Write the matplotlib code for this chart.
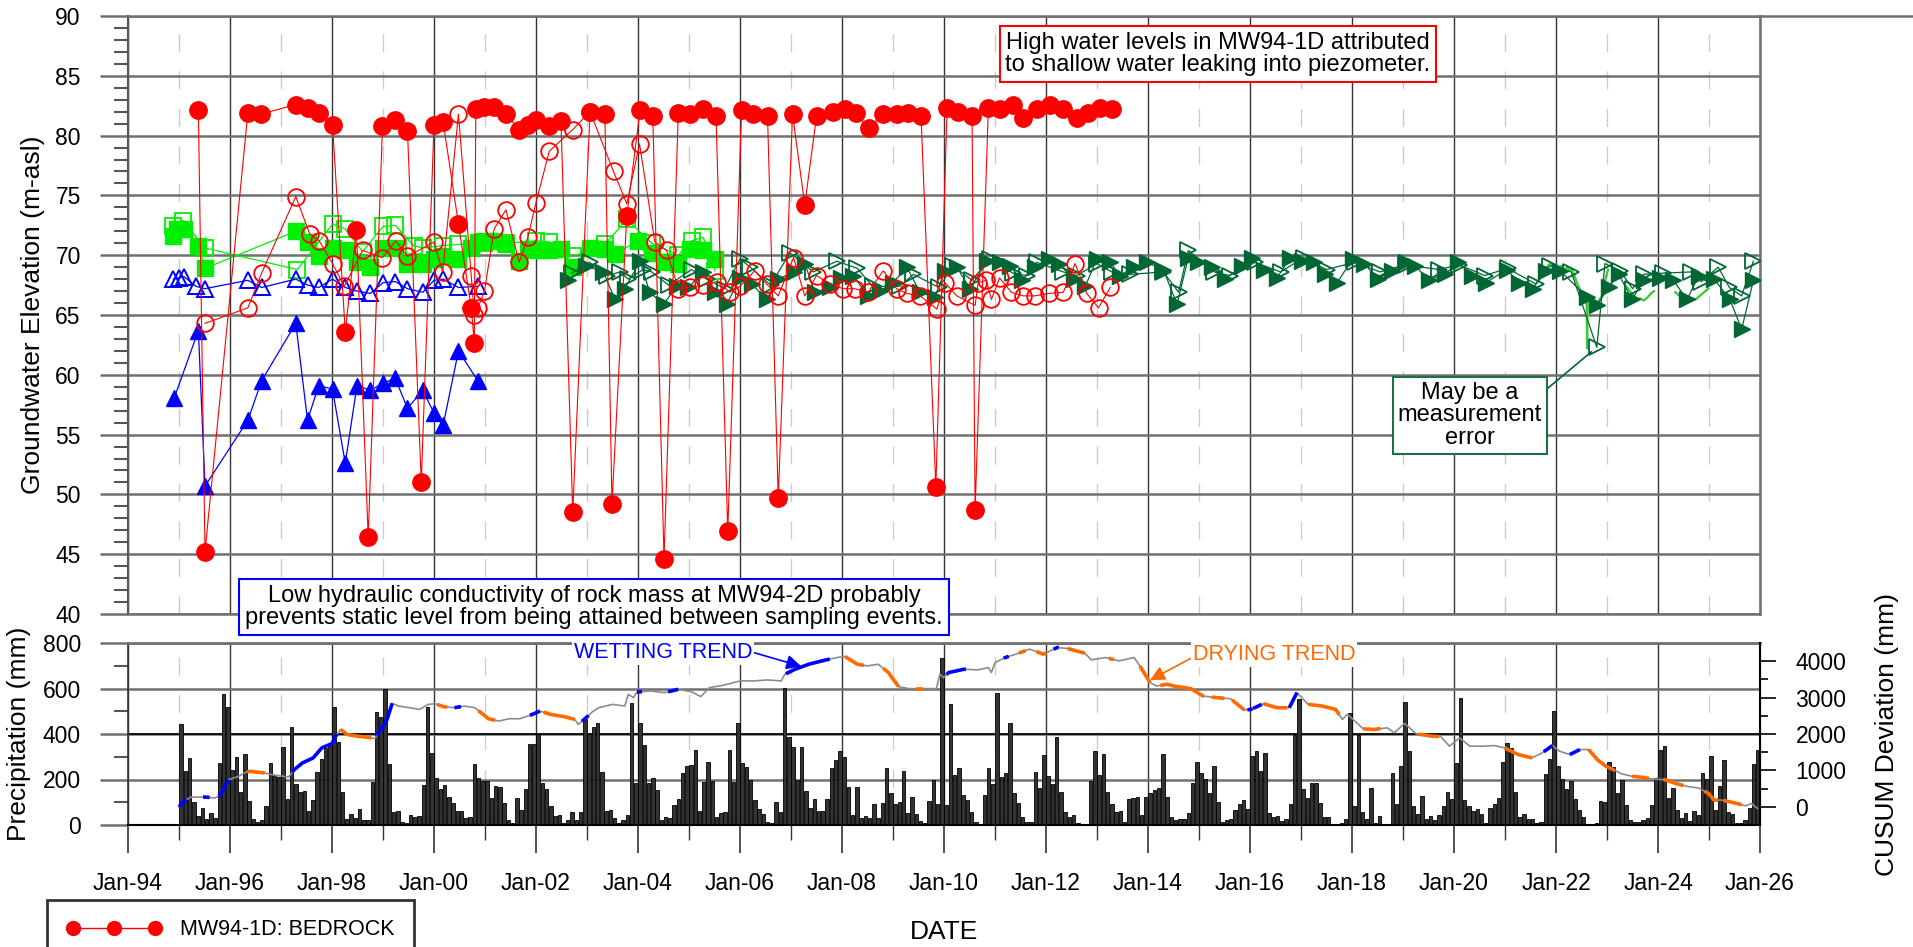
import numpy as np
import matplotlib
matplotlib.use("Agg")
import matplotlib.pyplot as plt
from matplotlib.lines import Line2D
from matplotlib.ticker import MultipleLocator, FixedLocator, FuncFormatter

plt.rcParams['font.family'] = ['Liberation Sans', 'DejaVu Sans']

# water levels, x in decimal years
# MW94-1D bedrock (red, filled circles)
red_filled_year = [1995.38, 1995.51, 1996.35, 1996.61, 1997.29, 1997.52, 1997.74, 1998.01, 1998.26, 1998.48,
                   1998.71, 1998.99, 1999.24, 1999.48, 1999.75, 2000.00, 2000.18, 2000.48, 2000.73, 2000.79,
                   2000.82, 2000.99, 2001.18, 2001.41, 2001.67, 2001.84, 2002.00, 2002.26, 2002.49, 2002.72,
                   2003.06, 2003.35, 2003.49, 2003.78, 2004.04, 2004.29, 2004.51, 2004.79, 2005.02, 2005.28,
                   2005.53, 2005.76, 2006.03, 2006.26, 2006.54, 2006.75, 2007.03, 2007.27, 2007.50, 2007.82,
                   2008.06, 2008.27, 2008.52, 2008.81, 2009.07, 2009.30, 2009.55, 2009.84, 2010.06, 2010.28,
                   2010.55, 2010.61, 2010.87, 2011.10, 2011.36, 2011.55, 2011.82, 2012.08, 2012.34, 2012.60,
                   2012.83, 2013.06, 2013.29]
red_filled_m = [82.1, 45.2, 81.9, 81.8, 82.6, 82.3, 81.9, 80.9, 63.6, 72.1,
                46.4, 80.8, 81.3, 80.4, 51.0, 80.9, 81.1, 72.6, 65.6, 62.7,
                82.2, 82.4, 82.4, 81.8, 80.5, 80.9, 81.3, 80.8, 81.2, 48.5,
                82.0, 81.8, 49.2, 73.3, 82.1, 81.6, 44.6, 81.9, 81.8, 82.2,
                81.6, 46.9, 82.1, 81.8, 81.6, 49.7, 81.8, 74.2, 81.6, 82.0,
                82.2, 81.9, 80.6, 81.8, 81.8, 81.9, 81.6, 50.6, 82.3, 82.0,
                81.6, 48.7, 82.3, 82.2, 82.6, 81.5, 82.2, 82.6, 82.2, 81.5,
                81.9, 82.3, 82.2]

red_open_year = [1995.51, 1996.35, 1996.62, 1997.29, 1997.56, 1997.75, 1998.01, 1998.24, 1998.60, 1998.99,
                 1999.25, 1999.48, 2000.00, 2000.17, 2000.48, 2000.73, 2000.79, 2000.86, 2000.99, 2001.18,
                 2001.41, 2001.67, 2001.84, 2002.00, 2002.26, 2002.72, 2003.06, 2003.52, 2003.78, 2004.03,
                 2004.33, 2004.56, 2004.79, 2005.02, 2005.28, 2005.55, 2005.80, 2006.00, 2006.29, 2006.52,
                 2006.75, 2007.05, 2007.27, 2007.50, 2007.76, 2008.02, 2008.25, 2008.51, 2008.81, 2009.07,
                 2009.27, 2009.53, 2009.86, 2010.02, 2010.25, 2010.61, 2010.67, 2010.83, 2010.93, 2011.09,
                 2011.32, 2011.55, 2011.78, 2012.05, 2012.34, 2012.57, 2012.80, 2013.03, 2013.26]
red_open_m = [64.3, 65.6, 68.5, 74.9, 71.8, 71.2, 69.3, 67.4, 70.4, 69.8,
              71.2, 69.9, 71.1, 68.6, 81.8, 68.3, 65.0, 65.6, 67.0, 72.2,
              73.8, 69.4, 71.5, 74.4, 78.7, 80.5, 82.0, 77.0, 74.3, 79.3,
              71.1, 70.4, 67.2, 67.3, 67.5, 67.8, 66.9, 67.4, 68.7, 67.6,
              66.6, 69.8, 66.6, 68.3, 67.6, 67.2, 67.2, 66.9, 68.7, 67.2,
              66.8, 66.6, 65.5, 67.7, 66.6, 65.8, 67.7, 67.9, 66.3, 68.1,
              66.9, 66.6, 66.6, 66.8, 66.9, 69.3, 66.8, 65.6, 67.3]

blue_filled_year = [1994.91, 1995.38, 1995.51, 1996.35, 1996.62, 1997.29, 1997.52, 1997.74, 1998.01, 1998.26,
                    1998.49, 1998.75, 1999.00, 1999.24, 1999.48, 1999.78, 2000.00, 2000.18, 2000.48, 2000.86]
blue_filled_m = [58.1, 63.7, 50.7, 56.2, 59.5, 64.3, 56.2, 59.1, 58.8, 52.6,
                 59.1, 58.7, 59.3, 59.7, 57.2, 58.7, 56.8, 55.8, 62.0, 59.5]

blue_open_year = [1994.89, 1995.00, 1995.10, 1995.33, 1995.51, 1996.35, 1996.62, 1997.29, 1997.52, 1997.74,
                  1998.01, 1998.26, 1998.49, 1998.75, 1999.00, 1999.24, 1999.48, 1999.78, 2000.00, 2000.18,
                  2000.48, 2000.86]
blue_open_m = [68.0, 68.1, 68.2, 67.4, 67.2, 67.9, 67.3, 68.0, 67.5, 67.3,
               68.0, 67.3, 67.0, 66.8, 67.7, 67.8, 67.2, 66.9, 67.9, 68.0,
               67.3, 67.4]

green_filled_year = [1994.88, 1994.97, 1995.10, 1995.38, 1995.51, 1997.29, 1997.52, 1997.74, 1998.01, 1998.26,
                     1998.49, 1998.75, 1999.00, 1999.24, 1999.48, 1999.78, 2000.00, 2000.18, 2000.48, 2000.73,
                     2000.86, 2000.99, 2001.18, 2001.41, 2001.67, 2001.84, 2002.00, 2002.26, 2002.49, 2002.72,
                     2003.06, 2003.35, 2003.55, 2004.00, 2004.27, 2004.50, 2004.79, 2005.02, 2005.28, 2005.51]
green_filled_m = [71.6, 72.2, 72.2, 70.8, 68.9, 72.0, 71.1, 69.9, 70.6, 70.4,
                  69.4, 69.0, 70.6, 70.6, 69.3, 69.3, 69.7, 69.9, 69.7, 70.6,
                  71.1, 71.2, 71.2, 70.9, 69.5, 70.5, 70.4, 70.4, 70.5, 69.0,
                  70.6, 70.5, 70.1, 71.2, 70.2, 69.4, 69.3, 70.5, 70.4, 69.7]

green_open_year = [1994.88, 1995.08, 1995.51, 1997.32, 1998.01, 1998.26, 1998.60, 1999.00, 1999.24, 1999.60,
                   1999.78, 2000.18, 2000.48, 2000.99, 2001.41, 2002.00, 2002.26, 2002.72, 2003.35, 2003.78,
                   2004.27, 2004.79, 2005.05, 2005.28, 2005.51]
green_open_m = [72.4, 72.9, 70.6, 68.8, 72.6, 72.2, 70.3, 72.4, 72.5, 70.8,
                70.6, 70.8, 70.9, 71.0, 71.0, 71.2, 71.1, 69.9, 70.9, 73.0,
                71.0, 70.0, 71.2, 71.5, 68.7]

dkgreen_filled_year = [2002.63, 2002.99, 2003.32, 2003.55, 2003.74, 2004.04, 2004.23, 2004.50, 2004.76, 2004.99,
                       2005.28, 2005.51, 2005.74, 2006.00, 2006.23, 2006.52, 2006.75, 2007.05, 2007.27, 2007.47,
                       2007.76, 2007.99, 2008.22, 2008.51, 2008.74, 2009.00, 2009.27, 2009.53, 2009.82, 2010.02,
                       2010.25, 2010.51, 2010.84, 2011.10, 2011.30, 2011.52, 2011.78, 2012.05, 2012.25, 2012.54,
                       2012.77, 2013.00, 2013.26, 2013.45, 2013.72, 2013.98, 2014.30, 2014.57, 2014.79, 2014.99,
                       2015.25, 2015.51, 2015.84, 2016.04, 2016.27, 2016.53, 2016.79, 2017.02, 2017.25, 2017.47,
                       2017.71, 2018.01, 2018.24, 2018.51, 2018.78, 2019.05, 2019.24, 2019.51, 2019.82, 2020.08,
                       2020.35, 2020.62, 2021.04, 2021.27, 2021.54, 2021.81, 2022.08, 2022.61, 2022.80, 2023.03,
                       2023.23, 2023.49, 2023.72, 2024.03, 2024.30, 2024.57, 2024.80, 2025.10, 2025.41, 2025.64,
                       2025.87]
dkgreen_filled_m = [67.9, 69.1, 68.6, 66.3, 67.2, 69.5, 66.9, 65.9, 67.4, 67.3,
                    68.6, 66.9, 65.9, 68.1, 67.6, 66.3, 68.0, 68.6, 69.3, 66.9,
                    67.3, 68.1, 68.3, 66.6, 67.0, 67.7, 69.0, 66.9, 66.5, 68.7,
                    69.0, 67.2, 69.5, 69.4, 69.1, 67.9, 69.0, 69.7, 69.3, 68.0,
                    67.4, 69.7, 69.4, 68.3, 69.0, 69.4, 68.8, 65.9, 69.8, 69.4,
                    69.0, 68.0, 69.1, 69.8, 68.8, 68.1, 69.8, 69.5, 69.4, 68.4,
                    67.7, 69.7, 69.3, 68.0, 68.7, 69.4, 69.1, 67.9, 68.4, 69.4,
                    68.3, 67.7, 68.8, 67.7, 67.2, 68.7, 68.7, 66.5, 65.8, 67.3,
                    68.4, 66.3, 67.9, 68.1, 67.9, 66.3, 68.3, 68.0, 66.3, 63.8,
                    67.9]

dkgreen_open_year = [2002.70, 2003.05, 2003.40, 2003.65, 2003.81, 2004.10, 2004.27, 2004.60, 2005.05, 2005.35,
                     2005.70, 2006.00, 2006.20, 2006.60, 2006.98, 2007.44, 2007.90, 2008.30, 2008.60, 2009.13,
                     2009.40, 2009.90, 2010.18, 2010.55, 2010.90, 2011.35, 2011.62, 2011.82, 2012.34, 2012.60,
                     2013.00, 2013.29, 2013.65, 2014.30, 2014.60, 2014.79, 2015.30, 2015.60, 2016.10, 2016.60,
                     2017.05, 2017.50, 2018.05, 2018.55, 2019.05, 2019.70, 2020.10, 2020.60, 2021.05, 2021.60,
                     2021.88, 2022.30, 2022.80, 2022.96, 2023.26, 2023.50, 2023.72, 2024.10, 2024.64, 2024.85,
                     2025.18, 2025.40, 2025.64, 2025.87]
dkgreen_open_m = [68.5, 69.4, 68.3, 68.6, 68.0, 68.8, 68.6, 67.5, 68.8, 68.0,
                  67.2, 69.7, 69.0, 67.5, 70.2, 68.6, 69.5, 68.9, 67.4, 67.4,
                  68.4, 67.3, 69.1, 67.9, 69.7, 68.5, 68.3, 69.4, 68.6, 68.3,
                  69.3, 68.6, 68.4, 68.6, 66.9, 70.4, 68.6, 68.3, 69.4, 68.6,
                  69.8, 68.8, 69.4, 68.6, 69.2, 68.8, 69.2, 68.3, 68.9, 67.6,
                  69.1, 68.6, 62.3, 69.3, 68.7, 67.2, 68.4, 68.5, 68.6, 67.8,
                  69.0, 67.3, 66.6, 69.5]

# datalogger record (light green), gaps as nan
logger_year = [2021.80, 2021.88, 2021.95, 2022.02, 2022.10, 2022.18, 2022.22, 2022.26, 2022.30, 2022.36,
               2022.42, 2022.48, 2022.55, 2022.60, 2022.61, 2022.62, 2022.66, 2022.72, 2022.80, 2022.86,
               2022.92, 2022.97, 2023.02, 2023.10,
               2023.38, 2023.45, 2023.52, 2023.58, 2023.65, 2023.72, 2023.80, 2023.86, 2023.92, 2024.00,
               2024.34, 2024.42, 2024.50, 2024.58, 2024.66, 2024.74, 2024.82, 2024.90, 2024.99]
logger_m = [68.9, 69.3, 69.0, 68.9, 69.1, 68.8, 69.0, 68.7, 68.9, 68.3,
            67.6, 67.0, 66.6, 66.4, 62.2, 66.4, 66.2, 66.0, 65.9, 66.3,
            66.8, 68.0, 68.8, np.nan,
            67.4, 67.0, 66.6, 66.3, 66.4, 66.2, 66.5, 66.8, 67.0, np.nan,
            66.9, 66.6, 66.3, 66.2, 66.4, 66.3, 66.6, 66.9, 67.2]

# monthly precipitation (mm), Jan 1995 to Dec 2025
precip_start = 1995
precip_mm = [
    442, 237, 293, 100, 40, 76, 28, 54, 29, 274, 574, 519,     # 1995
    242, 297, 146, 312, 107, 26, 12, 22, 85, 271, 220, 213,    # 1996
    341, 113, 429, 180, 146, 149, 63, 110, 234, 290, 337, 355,  # 1997
    520, 366, 146, 26, 47, 31, 69, 22, 22, 188, 498, 476,      # 1998
    600, 267, 55, 60, 15, 10, 44, 37, 40, 176, 520, 318,       # 1999
    205, 160, 178, 125, 95, 60, 62, 30, 35, 270, 205, 195,     # 2000
    195, 120, 170, 165, 95, 20, 10, 120, 65, 160, 355, 355,    # 2001
    400, 185, 160, 85, 40, 45, 10, 20, 55, 20, 55, 465,        # 2002
    400, 430, 450, 235, 60, 65, 30, 10, 20, 45, 535, 183,      # 2003
    447, 352, 183, 208, 154, 22, 37, 29, 88, 113, 227, 259,    # 2004
    264, 330, 63, 188, 275, 195, 37, 54, 59, 330, 190, 447,    # 2005
    271, 256, 198, 110, 70, 48, 15, 10, 102, 59, 604, 388,     # 2006
    344, 198, 341, 149, 73, 113, 63, 63, 113, 249, 286, 325,   # 2007
    300, 169, 44, 166, 29, 40, 29, 92, 31, 95, 252, 139,       # 2008
    92, 102, 239, 54, 125, 47, 17, 10, 105, 198, 91, 733,      # 2009
    90, 532, 220, 249, 132, 110, 59, 15, 3, 132, 252, 180,     # 2010
    582, 212, 227, 447, 142, 98, 37, 15, 15, 231, 161, 308,    # 2011
    215, 180, 385, 146, 59, 37, 44, 10, 3, 5, 193, 325,        # 2012
    220, 311, 146, 92, 59, 62, 15, 113, 117, 124, 44, 124,     # 2013
    139, 154, 164, 311, 122, 37, 22, 27, 27, 51, 186, 275,     # 2014
    230, 201, 139, 259, 100, 15, 22, 27, 66, 91, 110, 69,      # 2015
    303, 325, 237, 315, 51, 37, 40, 17, 25, 92, 396, 552,      # 2016
    157, 117, 183, 183, 95, 37, 37, 3, 3, 7, 25, 491,          # 2017
    85, 396, 59, 27, 161, 10, 40, 3, 3, 230, 92, 259,          # 2018
    542, 325, 85, 48, 129, 25, 40, 22, 44, 85, 146, 113,       # 2019
    274, 557, 110, 85, 63, 70, 48, 7, 73, 91, 117, 278,        # 2020
    359, 340, 146, 37, 48, 27, 27, 10, 15, 223, 289, 503,      # 2021
    259, 201, 157, 195, 114, 66, 34, 3, 3, 7, 105, 102,        # 2022
    278, 256, 139, 198, 88, 22, 15, 15, 22, 29, 88, 208,       # 2023
    331, 346, 119, 163, 67, 31, 53, 16, 60, 45, 229, 202,      # 2024
    302, 67, 170, 287, 56, 48, 9, 9, 23, 75, 268, 331,         # 2025
]

# CUSUM deviation of precipitation (mm)
cusum_year = [1995.00, 1995.09, 1995.23, 1995.53, 1995.70, 1995.80, 1995.97, 1996.17, 1996.28, 1996.38,
              1996.55, 1996.68, 1996.82, 1996.95, 1997.15, 1997.26, 1997.42, 1997.63, 1997.80, 1998.00,
              1998.07, 1998.17, 1998.30, 1998.50, 1998.67, 1998.84, 1998.98, 1999.08, 1999.18, 1999.31,
              1999.52, 1999.72, 1999.89, 2000.02, 2000.19, 2000.40, 2000.60, 2000.80, 2001.07, 2001.27,
              2001.47, 2001.68, 2001.88, 2002.08, 2002.29, 2002.56, 2002.76, 2002.83, 2002.96, 2003.10,
              2003.23, 2003.50, 2003.74, 2003.81, 2003.91, 2003.98, 2004.25, 2004.52, 2004.79, 2005.06,
              2005.23, 2005.40, 2005.67, 2005.87, 2006.00, 2006.27, 2006.54, 2006.81, 2006.88, 2007.08,
              2007.35, 2007.69, 2007.90, 2008.06, 2008.30, 2008.50, 2008.71, 2008.91, 2009.11, 2009.31,
              2009.58, 2009.85, 2009.92, 2009.99, 2010.09, 2010.39, 2010.66, 2010.87, 2010.93, 2011.00,
              2011.20, 2011.41, 2011.68, 2011.95, 2012.22, 2012.42, 2012.76, 2012.89, 2013.16, 2013.43,
              2013.73, 2013.84, 2014.04, 2014.17, 2014.38, 2014.50, 2014.84, 2015.08, 2015.35, 2015.62,
              2015.89, 2016.02, 2016.26, 2016.53, 2016.77, 2016.92, 2017.14, 2017.41, 2017.68, 2017.81,
              2017.91, 2018.02, 2018.22, 2018.42, 2018.69, 2018.83, 2019.03, 2019.26, 2019.57, 2019.74,
              2019.91, 2020.11, 2020.31, 2020.58, 2020.79, 2020.99, 2021.26, 2021.53, 2021.73, 2021.93,
              2022.07, 2022.27, 2022.47, 2022.64, 2022.81, 2022.98, 2023.15, 2023.28, 2023.49, 2023.69,
              2023.89, 2024.13, 2024.36, 2024.57, 2024.80, 2024.99, 2025.10, 2025.26, 2025.49, 2025.72,
              2025.83, 2025.95]
cusum_mm = [0, 148, 267, 267, 240, 304, 745, 837, 929, 975,
            950, 930, 883, 855, 819, 1021, 1205, 1343, 1619, 1738,
            1940, 2124, 1986, 1940, 1913, 1876, 2170, 2400, 2842, 2768,
            2722, 2676, 2814, 2832, 2750, 2722, 2768, 2722, 2419, 2354,
            2419, 2419, 2511, 2630, 2538, 2474, 2400, 2262, 2419, 2603,
            2722, 2814, 2768, 3090, 2998, 3154, 3182, 3136, 3228, 3154,
            3026, 3274, 3338, 3412, 3458, 3458, 3485, 3458, 3642, 3779,
            3917, 4037, 4101, 4129, 3917, 3871, 3917, 3688, 3301, 3246,
            3246, 3246, 3642, 3550, 3688, 3779, 3761, 3825, 3688, 3963,
            4101, 4193, 4331, 4193, 4377, 4349, 4221, 4037, 4101, 4009,
            4101, 3871, 3412, 3320, 3366, 3320, 3246, 3044, 2998, 2970,
            2658, 2676, 2832, 2722, 2722, 3136, 2814, 2768, 2676, 2400,
            2538, 2400, 2143, 2124, 2170, 2033, 2290, 2005, 1940, 1930,
            1665, 1894, 1665, 1665, 1683, 1619, 1435, 1343, 1481, 1683,
            1527, 1435, 1573, 1573, 1297, 1113, 1003, 911, 837, 810,
            764, 745, 635, 561, 515, 368, 184, 184, 110, 28,
            92, -46]

wet_periods = [(1995.0, 1995.15), (1995.47, 1995.6), (1995.77, 1995.97), (1997.22, 1998.1), (1998.88, 1999.18),
               (2000.4, 2000.53), (2001.88, 2002.08), (2002.9, 2003.03), (2003.98, 2004.08), (2004.59, 2004.79),
               (2006.9, 2007.76), (2010.05, 2010.43), (2011.17, 2011.27), (2012.15, 2012.25), (2015.95, 2016.05),
               (2016.06, 2016.23), (2016.77, 2016.92), (2021.76, 2021.93), (2022.27, 2022.47)]
dry_periods = [(1996.34, 1996.68), (1998.17, 1998.77), (2000.06, 2000.26), (2000.87, 2001.2), (2002.15, 2002.76),
               (2008.06, 2008.43), (2008.81, 2009.11), (2009.45, 2009.58), (2011.47, 2011.6), (2011.81, 2012.0),
               (2012.42, 2012.76), (2013.23, 2013.33), (2013.84, 2014.04), (2014.24, 2015.1), (2015.25, 2015.5),
               (2015.65, 2015.89), (2016.26, 2016.73), (2017.14, 2017.75), (2018.22, 2018.56), (2019.3, 2019.7),
               (2020.99, 2021.53), (2022.64, 2023.15), (2023.49, 2023.82), (2024.1, 2024.5), (2024.91, 2025.18),
               (2025.29, 2025.64)]

RED = '#ff0000'
BLUE = '#0000ff'
LIME = '#00ee00'
DKGREEN = '#006633'
ORANGE = '#ff6a00'
GRID = '#707070'

W, H = 1913, 947
fig = plt.figure(figsize=(W / 100, H / 100), dpi=100)


def fx(px):
    return px / W


def fy(py):
    return 1 - py / H


ax1 = fig.add_axes([fx(128), fy(614), fx(1760) - fx(128), fy(16) - fy(614)])
ax2 = fig.add_axes([fx(128), fy(825), fx(1760) - fx(128), fy(643) - fy(825)])
ax3 = ax2.twinx()


def year_grid(ax):
    ax.set_xlim(1994, 2026)
    ax.xaxis.set_major_locator(MultipleLocator(2))
    ax.xaxis.set_minor_locator(MultipleLocator(1))
    ax.grid(True, axis='x', which='major', color='#333333', lw=1.0)
    ax.grid(True, axis='x', which='minor', color='#cccccc', lw=1.0, dashes=(13, 14))
    ax.set_axisbelow(True)


# ---- top panel: groundwater elevations
year_grid(ax1)
ax1.set_ylim(40, 90)
ax1.yaxis.set_major_locator(MultipleLocator(5))
ax1.yaxis.set_minor_locator(MultipleLocator(1))
ax1.grid(True, axis='y', which='major', color=GRID, lw=1.8)
ax1.tick_params(axis='y', which='major', direction='out', length=20, width=1.8, color=GRID,
                labelsize=16.5, pad=14)
ax1.tick_params(axis='y', which='minor', direction='out', length=10, width=1.5, color='#555555')
ax1.tick_params(axis='x', which='both', length=0, labelbottom=False)
for s in ['top', 'right', 'bottom']:
    ax1.spines[s].set_color(GRID)
    ax1.spines[s].set_linewidth(1.8)
ax1.spines['left'].set_color('#555555')
ax1.spines['left'].set_linewidth(1.5)

# the 90 m line runs on to the page edge in the source
fig.add_artist(Line2D([fx(1760), 1.0], [fy(16), fy(16)], color=GRID, lw=1.8))

ax1.plot(green_open_year, green_open_m, color=LIME, lw=0.9, marker='s', ms=11, mfc='none', mec=LIME,
         mew=1.3, zorder=3)
ax1.plot(green_filled_year, green_filled_m, color=LIME, lw=0.9, marker='s', ms=11, mfc=LIME, mec=LIME,
         zorder=3)
ax1.plot(logger_year, logger_m, color='#33cc33', lw=1.6, zorder=3)
ax1.plot(dkgreen_open_year, dkgreen_open_m, color=DKGREEN, lw=0.9, marker='>', ms=12, mfc='none',
         mec=DKGREEN, mew=1.3, zorder=4)
ax1.plot(dkgreen_filled_year, dkgreen_filled_m, color=DKGREEN, lw=0.9, marker='>', ms=12, mfc=DKGREEN,
         mec=DKGREEN, zorder=4)
ax1.plot(blue_open_year, blue_open_m, color=BLUE, lw=0.9, marker='^', ms=12, mfc='none', mec=BLUE,
         mew=1.4, zorder=5)
ax1.plot(blue_filled_year, blue_filled_m, color=BLUE, lw=0.9, marker='^', ms=12, mfc=BLUE, mec=BLUE,
         zorder=5)
ax1.plot(red_open_year, red_open_m, color=RED, lw=0.8, marker='o', ms=12, mfc='none', mec=RED,
         mew=1.3, zorder=6)
ax1.plot(red_filled_year, red_filled_m, color=RED, lw=0.8, marker='o', ms=12.5, mfc=RED, mec=RED,
         zorder=7)

ax1.set_ylabel('Groundwater Elevation (m-asl)', fontsize=19)
ax1.yaxis.set_label_coords(-0.051, 0.5)

ax1.annotate('May be a\nmeasurement\nerror', xy=(2022.8, 62.3), xytext=(2020.31, 56.6),
             ha='center', va='center', fontsize=17, linespacing=1.05, zorder=10,
             bbox=dict(boxstyle='square,pad=0.2', fc='white', ec='#1d7040', lw=1.5),
             arrowprops=dict(arrowstyle='-', color=DKGREEN, lw=1.2, relpos=(1.0, 0.83),
                             shrinkA=0, shrinkB=5))

fig.text(fx(1218), fy(54), 'High water levels in MW94-1D attributed\nto shallow water leaking into piezometer.',
         ha='center', va='center', fontsize=17, linespacing=1.0, multialignment='center', zorder=10,
         bbox=dict(boxstyle='square,pad=0.25', fc='white', ec=RED, lw=1.5))

fig.text(fx(594), fy(607),
         'Low hydraulic conductivity of rock mass at MW94-2D probably\n'
         'prevents static level from being attained between sampling events.',
         ha='center', va='center', fontsize=17, linespacing=1.05, multialignment='center', zorder=10,
         bbox=dict(boxstyle='square,pad=0.25', fc='white', ec=BLUE, lw=1.5))

# ---- bottom panel: precipitation and CUSUM
year_grid(ax2)
n = len(precip_mm)
bar_x = precip_start + (np.arange(n) + 0.5) / 12.0
ax2.bar(bar_x, precip_mm, width=0.85 / 12, color='#333333', edgecolor='black', lw=0.6, zorder=2)
ax2.set_ylim(0, 800)
ax2.yaxis.set_major_locator(MultipleLocator(200))
ax2.yaxis.set_minor_locator(MultipleLocator(100))
ax2.grid(True, axis='y', which='major', color=GRID, lw=1.8)
ax2.axhline(400, color='black', lw=1.2, zorder=1)
ax2.tick_params(axis='y', which='major', direction='out', length=20, width=1.8, color=GRID,
                labelsize=16.5, pad=14)
ax2.tick_params(axis='y', which='minor', direction='out', length=10, width=1.5, color='#555555')
ax2.tick_params(axis='x', which='major', direction='out', length=20, width=1.2, color='#333333',
                labelsize=16.5, pad=14)
ax2.tick_params(axis='x', which='minor', direction='out', length=11, width=1.0, color='#333333')
ax2.xaxis.set_major_formatter(FuncFormatter(lambda v, p: 'Jan-%02d' % (int(round(v)) % 100)))
ax2.spines['bottom'].set_color('black')
ax2.spines['bottom'].set_linewidth(1.5)
ax2.spines['top'].set_color(GRID)
ax2.spines['top'].set_linewidth(2.0)
ax2.spines['left'].set_color('#333333')
ax2.spines['left'].set_linewidth(1.2)
ax2.set_ylabel('Precipitation (mm)', fontsize=19)
ax2.yaxis.set_label_coords(-0.0594, 0.5)
ax2.set_xlabel('DATE', fontsize=19)
ax2.xaxis.set_label_coords(0.5, -0.52)

ax3.set_ylim(-500, 4500)
ax3.yaxis.set_major_locator(FixedLocator([0, 1000, 2000, 3000, 4000]))
ax3.yaxis.set_minor_locator(FixedLocator([500, 1500, 2500, 3500]))
ax3.tick_params(axis='y', which='major', direction='out', length=11.5, width=1.2, color='black',
                labelsize=16.5, pad=14)
ax3.tick_params(axis='y', which='minor', direction='out', length=6, width=1.2, color='black')
for s in ['top', 'bottom', 'left']:
    ax3.spines[s].set_visible(False)
ax3.spines['right'].set_color('black')
ax3.spines['right'].set_linewidth(1.5)
ax3.set_ylabel('CUSUM Deviation (mm)', fontsize=19)
ax3.yaxis.set_label_coords(1.0705, 0.5)

cx = np.array(cusum_year)
cy = np.array(cusum_mm, dtype=float)
ax3.plot(cx, cy, color='#8c8c8c', lw=1.2, zorder=3)


def trend_piece(t0, t1):
    inside = (cx > t0) & (cx < t1)
    xs = np.concatenate([[t0], cx[inside], [t1]])
    return xs, np.interp(xs, cx, cy)


for t0, t1 in wet_periods:
    xs, ys = trend_piece(t0, t1)
    ax3.plot(xs, ys, color=BLUE, lw=2.6, solid_capstyle='butt', zorder=4)
for t0, t1 in dry_periods:
    xs, ys = trend_piece(t0, t1)
    ax3.plot(xs, ys, color=ORANGE, lw=2.6, solid_capstyle='butt', zorder=4)

ax3.annotate('WETTING TREND', xy=(2007.2, 3860), xytext=(2004.49, 4248), color=BLUE, fontsize=15.5,
             ha='center', va='center', annotation_clip=False, zorder=10,
             bbox=dict(boxstyle='square,pad=0.1', fc='white', ec='none'),
             arrowprops=dict(arrowstyle='-|>', color=BLUE, lw=1.2, mutation_scale=22,
                             relpos=(1.0, 0.5), shrinkA=0, shrinkB=0))
ax3.annotate('DRYING TREND', xy=(2014.04, 3480), xytext=(2016.47, 4193), color=ORANGE, fontsize=15.5,
             ha='center', va='center', annotation_clip=False, zorder=10,
             bbox=dict(boxstyle='square,pad=0.1', fc='white', ec='none'),
             arrowprops=dict(arrowstyle='-|>', color=ORANGE, lw=1.2, mutation_scale=22,
                             relpos=(0.0, 0.35), shrinkA=0, shrinkB=0))

# legend box runs past the bottom edge, as on the source page
leg_handle = Line2D([], [], color=RED, lw=1.0, marker='o', ms=10, mfc=RED, mec=RED)
leg = fig.legend(handles=[leg_handle], labels=['MW94-1D: BEDROCK'], loc='upper left',
                 bbox_to_anchor=(fx(47), fy(900)), frameon=True, fancybox=False, fontsize=15.5,
                 numpoints=3, handlelength=4.4, borderpad=0.9, handletextpad=0.9, borderaxespad=0)
leg.get_frame().set_edgecolor('black')
leg.get_frame().set_linewidth(2.0)

fig.savefig('out.png', dpi=100)
